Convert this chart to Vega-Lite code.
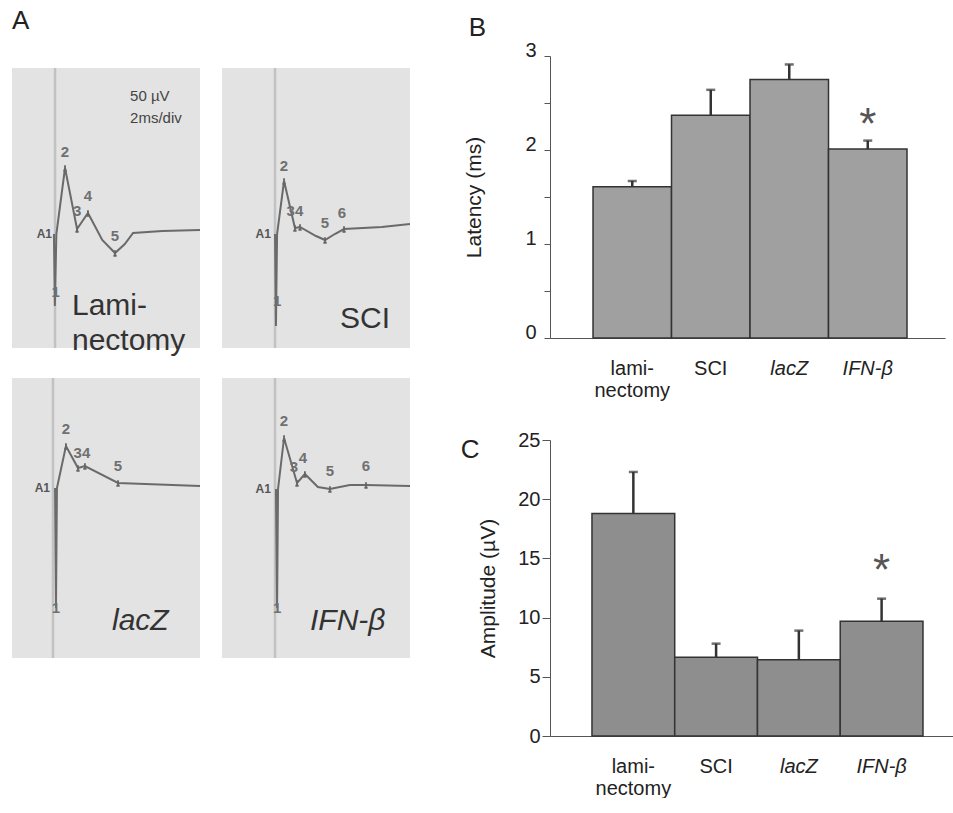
{
  "$schema": "https://vega.github.io/schema/vega-lite/v6.json",
  "padding": {"left": 12, "top": 8, "right": 0, "bottom": 0},
  "background": "white",
  "config": {"font": "Liberation Sans", "view": {"stroke": null}, "headerFacet": {"labels": false, "title": null}},
  "spacing": 50,
  "hconcat": [
    {
      "title": {"text": "A", "anchor": "start", "frame": "group", "fontSize": 26, "fontWeight": "normal", "color": "#222", "offset": 22},
      "spacing": 9,
      "vconcat": [
        {
          "width": 1,
          "height": 1,
          "data": {"values": []},
          "mark": "point"
        },
        {
          "data": {"values": [
            {"p": "Lam", "k": "stim", "t": 2.29},
            {"p": "Lam", "k": "trace", "t": 2.23, "v": -3},
            {"p": "Lam", "k": "trace", "t": 2.28, "v": -39},
            {"p": "Lam", "k": "trace", "t": 2.36, "v": -3},
            {"p": "Lam", "k": "trace", "t": 2.82, "v": 30},
            {"p": "Lam", "k": "trace", "t": 3.46, "v": -0.5},
            {"p": "Lam", "k": "trace", "t": 4.04, "v": 7.5},
            {"p": "Lam", "k": "trace", "t": 4.8, "v": -6},
            {"p": "Lam", "k": "trace", "t": 5.48, "v": -12.5},
            {"p": "Lam", "k": "trace", "t": 6.0, "v": -8},
            {"p": "Lam", "k": "trace", "t": 6.44, "v": -2.5},
            {"p": "Lam", "k": "trace", "t": 8.0, "v": -1.5},
            {"p": "Lam", "k": "trace", "t": 10, "v": -1},
            {"p": "Lam", "k": "mark", "t": 2.82, "v": 30},
            {"p": "Lam", "k": "mark", "t": 3.46, "v": -0.5},
            {"p": "Lam", "k": "mark", "t": 4.04, "v": 7.5},
            {"p": "Lam", "k": "mark", "t": 5.48, "v": -12.5},
            {"p": "Lam", "k": "num", "t": 2.32, "v": -32, "s": "1"},
            {"p": "Lam", "k": "num", "t": 2.82, "v": 38, "s": "2"},
            {"p": "Lam", "k": "num", "t": 3.46, "v": 8.5, "s": "3"},
            {"p": "Lam", "k": "num", "t": 4.04, "v": 16, "s": "4"},
            {"p": "Lam", "k": "num", "t": 5.48, "v": -4, "s": "5"},
            {"p": "Lam", "k": "a1", "t": 2.13, "v": -3, "s": "A1"},
            {"p": "Lam", "k": "name", "t": 3.19, "v": -39, "s": "Lami-"},
            {"p": "Lam", "k": "name", "t": 3.19, "v": -56.5, "s": "nectomy"},
            {"p": "Lam", "k": "scale", "t": 6.28, "v": 66, "s": "50 µV"},
            {"p": "Lam", "k": "scale", "t": 6.28, "v": 55, "s": "2ms/div"},

            {"p": "SCI", "k": "stim", "t": 2.82},
            {"p": "SCI", "k": "trace", "t": 2.82, "v": -3},
            {"p": "SCI", "k": "trace", "t": 2.87, "v": -49},
            {"p": "SCI", "k": "trace", "t": 2.93, "v": -3},
            {"p": "SCI", "k": "trace", "t": 3.30, "v": 23.5},
            {"p": "SCI", "k": "trace", "t": 3.88, "v": 0},
            {"p": "SCI", "k": "trace", "t": 4.15, "v": 0.5},
            {"p": "SCI", "k": "trace", "t": 5.0, "v": -4},
            {"p": "SCI", "k": "trace", "t": 5.48, "v": -6},
            {"p": "SCI", "k": "trace", "t": 6.0, "v": -3},
            {"p": "SCI", "k": "trace", "t": 6.49, "v": -0.5},
            {"p": "SCI", "k": "trace", "t": 8.5, "v": 0.5},
            {"p": "SCI", "k": "trace", "t": 10, "v": 2},
            {"p": "SCI", "k": "mark", "t": 3.30, "v": 23.5},
            {"p": "SCI", "k": "mark", "t": 3.88, "v": 0},
            {"p": "SCI", "k": "mark", "t": 4.15, "v": 0.5},
            {"p": "SCI", "k": "mark", "t": 5.48, "v": -6},
            {"p": "SCI", "k": "mark", "t": 6.49, "v": -0.5},
            {"p": "SCI", "k": "num", "t": 2.93, "v": -36.5, "s": "1"},
            {"p": "SCI", "k": "num", "t": 3.30, "v": 31, "s": "2"},
            {"p": "SCI", "k": "num", "t": 3.88, "v": 8.5, "s": "34"},
            {"p": "SCI", "k": "num", "t": 5.48, "v": 2.5, "s": "5"},
            {"p": "SCI", "k": "num", "t": 6.38, "v": 7.5, "s": "6"},
            {"p": "SCI", "k": "a1", "t": 2.6, "v": -3, "s": "A1"},
            {"p": "SCI", "k": "nameR", "t": 8.94, "v": -45.5, "s": "SCI"},

            {"p": "lacZ", "k": "stim", "t": 2.18},
            {"p": "lacZ", "k": "trace", "t": 2.29, "v": 25},
            {"p": "lacZ", "k": "trace", "t": 2.34, "v": -35},
            {"p": "lacZ", "k": "trace", "t": 2.39, "v": 25},
            {"p": "lacZ", "k": "trace", "t": 2.87, "v": 46},
            {"p": "lacZ", "k": "trace", "t": 3.51, "v": 35},
            {"p": "lacZ", "k": "trace", "t": 3.88, "v": 36},
            {"p": "lacZ", "k": "trace", "t": 5.64, "v": 27.5},
            {"p": "lacZ", "k": "trace", "t": 10, "v": 26},
            {"p": "lacZ", "k": "mark", "t": 2.87, "v": 46},
            {"p": "lacZ", "k": "mark", "t": 3.51, "v": 35},
            {"p": "lacZ", "k": "mark", "t": 3.88, "v": 36},
            {"p": "lacZ", "k": "mark", "t": 5.64, "v": 27.5},
            {"p": "lacZ", "k": "num", "t": 2.34, "v": -35, "s": "1"},
            {"p": "lacZ", "k": "num", "t": 2.87, "v": 54.5, "s": "2"},
            {"p": "lacZ", "k": "num", "t": 3.72, "v": 42.5, "s": "34"},
            {"p": "lacZ", "k": "num", "t": 5.64, "v": 36, "s": "5"},
            {"p": "lacZ", "k": "a1", "t": 2.02, "v": 25, "s": "A1"},
            {"p": "lacZ", "k": "nameit", "t": 5.32, "v": -41.5, "s": "lacZ"},

            {"p": "IFN", "k": "stim", "t": 2.82},
            {"p": "IFN", "k": "trace", "t": 2.87, "v": 24.5},
            {"p": "IFN", "k": "trace", "t": 2.93, "v": -35},
            {"p": "IFN", "k": "trace", "t": 2.98, "v": 24.5},
            {"p": "IFN", "k": "trace", "t": 3.30, "v": 50},
            {"p": "IFN", "k": "trace", "t": 3.99, "v": 27.5},
            {"p": "IFN", "k": "trace", "t": 4.41, "v": 32},
            {"p": "IFN", "k": "trace", "t": 5.1, "v": 25.5},
            {"p": "IFN", "k": "trace", "t": 5.74, "v": 24.5},
            {"p": "IFN", "k": "trace", "t": 6.8, "v": 26.5},
            {"p": "IFN", "k": "trace", "t": 7.66, "v": 26.5},
            {"p": "IFN", "k": "trace", "t": 10, "v": 26},
            {"p": "IFN", "k": "mark", "t": 3.30, "v": 50},
            {"p": "IFN", "k": "mark", "t": 3.99, "v": 27.5},
            {"p": "IFN", "k": "mark", "t": 4.41, "v": 32},
            {"p": "IFN", "k": "mark", "t": 5.74, "v": 24.5},
            {"p": "IFN", "k": "mark", "t": 7.66, "v": 26.5},
            {"p": "IFN", "k": "num", "t": 2.93, "v": -35, "s": "1"},
            {"p": "IFN", "k": "num", "t": 3.30, "v": 58.5, "s": "2"},
            {"p": "IFN", "k": "num", "t": 3.83, "v": 35.5, "s": "3"},
            {"p": "IFN", "k": "num", "t": 4.31, "v": 40, "s": "4"},
            {"p": "IFN", "k": "num", "t": 5.74, "v": 33.5, "s": "5"},
            {"p": "IFN", "k": "num", "t": 7.66, "v": 36, "s": "6"},
            {"p": "IFN", "k": "a1", "t": 2.6, "v": 24.5, "s": "A1"},
            {"p": "IFN", "k": "nameit", "t": 4.68, "v": -41.5, "s": "IFN-β"}
          ]},
          "facet": {"field": "p", "type": "nominal", "sort": ["Lam", "SCI", "lacZ", "IFN"], "title": null, "header": {"labels": false, "labelExpr": "''", "labelFontSize": 0, "labelPadding": 0, "title": null}},
          "columns": 2,
          "spacing": {"row": 20, "column": 22},
          "spec": {
            "width": 188,
            "height": 280,
            "view": {"fill": "#e3e3e3", "stroke": null},
            "layer": [
              {
                "transform": [{"filter": "datum.k == 'stim'"}],
                "mark": {"type": "rule", "color": "#c2c2c2", "strokeWidth": 2.5},
                "encoding": {"x": {"field": "t", "type": "quantitative", "scale": {"domain": [0, 10], "nice": false, "zero": false}, "axis": null}}
              },
              {
                "transform": [{"filter": "datum.k == 'trace'"}],
                "mark": {"type": "line", "color": "#6a6a6a", "strokeWidth": 2, "clip": true},
                "encoding": {
                  "x": {"field": "t", "type": "quantitative", "scale": {"domain": [0, 10], "nice": false, "zero": false}, "axis": null},
                  "y": {"field": "v", "type": "quantitative", "scale": {"domain": [-60, 80], "nice": false, "zero": false}, "axis": null}
                }
              },
              {
                "transform": [{"filter": "datum.k == 'mark'"}],
                "mark": {"type": "point", "shape": "M0,-1V1M-0.6,1H0.6", "filled": false, "color": "#666", "strokeWidth": 1.8, "size": 30, "opacity": 1},
                "encoding": {
                  "x": {"field": "t", "type": "quantitative"},
                  "y": {"field": "v", "type": "quantitative"}
                }
              },
              {
                "transform": [{"filter": "datum.k == 'num'"}],
                "mark": {"type": "text", "fontSize": 15, "fontWeight": "bold", "color": "#707070", "baseline": "middle"},
                "encoding": {
                  "x": {"field": "t", "type": "quantitative"},
                  "y": {"field": "v", "type": "quantitative"},
                  "text": {"field": "s"}
                }
              },
              {
                "transform": [{"filter": "datum.k == 'a1'"}],
                "mark": {"type": "text", "fontSize": 12, "fontWeight": "bold", "color": "#555", "align": "right", "baseline": "middle"},
                "encoding": {
                  "x": {"field": "t", "type": "quantitative"},
                  "y": {"field": "v", "type": "quantitative"},
                  "text": {"field": "s"}
                }
              },
              {
                "transform": [{"filter": "datum.k == 'name'"}],
                "mark": {"type": "text", "fontSize": 30, "color": "#333", "align": "left", "baseline": "middle"},
                "encoding": {
                  "x": {"field": "t", "type": "quantitative"},
                  "y": {"field": "v", "type": "quantitative"},
                  "text": {"field": "s"}
                }
              },
              {
                "transform": [{"filter": "datum.k == 'nameR'"}],
                "mark": {"type": "text", "fontSize": 30, "color": "#333", "align": "right", "baseline": "middle"},
                "encoding": {
                  "x": {"field": "t", "type": "quantitative"},
                  "y": {"field": "v", "type": "quantitative"},
                  "text": {"field": "s"}
                }
              },
              {
                "transform": [{"filter": "datum.k == 'nameit'"}],
                "mark": {"type": "text", "fontSize": 30, "fontStyle": "italic", "color": "#333", "align": "left", "baseline": "middle"},
                "encoding": {
                  "x": {"field": "t", "type": "quantitative"},
                  "y": {"field": "v", "type": "quantitative"},
                  "text": {"field": "s"}
                }
              },
              {
                "transform": [{"filter": "datum.k == 'scale'"}],
                "mark": {"type": "text", "fontSize": 15, "color": "#444", "align": "left", "baseline": "middle"},
                "encoding": {
                  "x": {"field": "t", "type": "quantitative"},
                  "y": {"field": "v", "type": "quantitative"},
                  "text": {"field": "s"}
                }
              }
            ]
          }
        }
      ]
    },
    {
      "title": {"text": "B", "anchor": "start", "frame": "bounds", "fontSize": 26, "fontWeight": "normal", "color": "#222", "offset": -1, "dx": 8},
      "spacing": 30,
      "vconcat": [
        {
          "width": 395,
          "height": 282,
          "data": {"values": [
            {"group": "laminectomy", "mean": 1.61, "upper": 1.67},
            {"group": "SCI", "mean": 2.37, "upper": 2.64},
            {"group": "lacZ", "mean": 2.75, "upper": 2.91},
            {"group": "IFN-β", "mean": 2.01, "upper": 2.10, "star": 2.36}
          ]},
          "encoding": {
            "x": {"field": "group", "type": "nominal", "sort": null, "scale": {"paddingInner": 0, "paddingOuter": 0.516, "align": 0.531},
              "axis": {"title": null, "labelAngle": 0, "ticks": false, "domainColor": "#555", "domainWidth": 1.2, "labelPadding": 20, "labelFontSize": 20, "labelColor": "#222", "labelLineHeight": 22,
                "labelExpr": "datum.value == 'laminectomy' ? ['lami-', 'nectomy'] : datum.label",
                "labelFontStyle": {"condition": {"test": "datum.value == 'lacZ' || datum.value == 'IFN-β'", "value": "italic"}, "value": "normal"}}}
          },
          "layer": [
            {
              "mark": {"type": "bar", "fill": "#a0a0a0", "stroke": "#333", "strokeWidth": 1.5},
              "encoding": {"y": {"field": "mean", "type": "quantitative", "title": "Latency (ms)", "scale": {"domain": [0, 3], "nice": false},
                "axis": {"values": [0, 0.5, 1, 1.5, 2, 2.5, 3], "labelExpr": "datum.value % 1 === 0 ? format(datum.value, 'd') : ''", "tickSize": 6, "domainColor": "#555", "tickColor": "#555", "labelFontSize": 20, "labelColor": "#222", "labelPadding": 8, "labelOffset": -6, "grid": false, "titleFontSize": 21, "titleFontWeight": "normal", "titleColor": "#222", "titlePadding": 40}}}
            },
            {
              "mark": {"type": "rule", "color": "#333", "strokeWidth": 2.5},
              "encoding": {"y": {"field": "mean", "type": "quantitative", "title": "Latency (ms)", "scale": {"domain": [0, 3], "nice": false}}, "y2": {"field": "upper"}}
            },
            {
              "mark": {"type": "tick", "orient": "horizontal", "color": "#333", "thickness": 2.5, "size": 9},
              "encoding": {"y": {"field": "upper", "type": "quantitative", "title": "Latency (ms)", "scale": {"domain": [0, 3], "nice": false}}}
            },
            {
              "transform": [{"filter": "datum.star != null"}],
              "mark": {"type": "text", "text": "*", "fontSize": 44, "color": "#555", "baseline": "middle", "dy": 10},
              "encoding": {"y": {"field": "star", "type": "quantitative", "title": "Latency (ms)", "scale": {"domain": [0, 3], "nice": false}}}
            }
          ]
        },
        {
          "title": {"text": "C", "anchor": "start", "frame": "bounds", "fontSize": 26, "fontWeight": "normal", "color": "#222", "offset": 0, "dx": -17, "dy": 33},
          "width": 404,
          "height": 296,
          "data": {"values": [
            {"group": "laminectomy", "mean": 18.8, "upper": 22.3},
            {"group": "SCI", "mean": 6.65, "upper": 7.8},
            {"group": "lacZ", "mean": 6.45, "upper": 8.9},
            {"group": "IFN-β", "mean": 9.7, "upper": 11.6, "star": 14.7}
          ]},
          "encoding": {
            "x": {"field": "group", "type": "nominal", "sort": null, "scale": {"paddingInner": 0, "paddingOuter": 0.441, "align": 0.575},
              "axis": {"title": null, "labelAngle": 0, "ticks": false, "domainColor": "#555", "domainWidth": 1.2, "labelPadding": 20, "labelFontSize": 20, "labelColor": "#222", "labelLineHeight": 22,
                "labelExpr": "datum.value == 'laminectomy' ? ['lami-', 'nectomy'] : datum.label",
                "labelFontStyle": {"condition": {"test": "datum.value == 'lacZ' || datum.value == 'IFN-β'", "value": "italic"}, "value": "normal"}}}
          },
          "layer": [
            {
              "mark": {"type": "bar", "fill": "#8e8e8e", "stroke": "#333", "strokeWidth": 1.5},
              "encoding": {"y": {"field": "mean", "type": "quantitative", "title": "Amplitude (µV)", "scale": {"domain": [0, 25], "nice": false},
                "axis": {"values": [0, 5, 10, 15, 20, 25], "tickSize": 8, "domainColor": "#555", "tickColor": "#555", "labelFontSize": 20, "labelColor": "#222", "labelPadding": 2, "grid": false, "titleFontSize": 21, "titleFontWeight": "normal", "titleColor": "#222", "titlePadding": 19}}}
            },
            {
              "mark": {"type": "rule", "color": "#333", "strokeWidth": 2.5},
              "encoding": {"y": {"field": "mean", "type": "quantitative", "title": "Amplitude (µV)", "scale": {"domain": [0, 25], "nice": false}}, "y2": {"field": "upper"}}
            },
            {
              "mark": {"type": "tick", "orient": "horizontal", "color": "#333", "thickness": 2.5, "size": 9},
              "encoding": {"y": {"field": "upper", "type": "quantitative", "title": "Amplitude (µV)", "scale": {"domain": [0, 25], "nice": false}}}
            },
            {
              "transform": [{"filter": "datum.star != null"}],
              "mark": {"type": "text", "text": "*", "fontSize": 44, "color": "#555", "baseline": "middle", "dy": 10},
              "encoding": {"y": {"field": "star", "type": "quantitative", "title": "Amplitude (µV)", "scale": {"domain": [0, 25], "nice": false}}}
            }
          ]
        }
      ]
    }
  ]
}
